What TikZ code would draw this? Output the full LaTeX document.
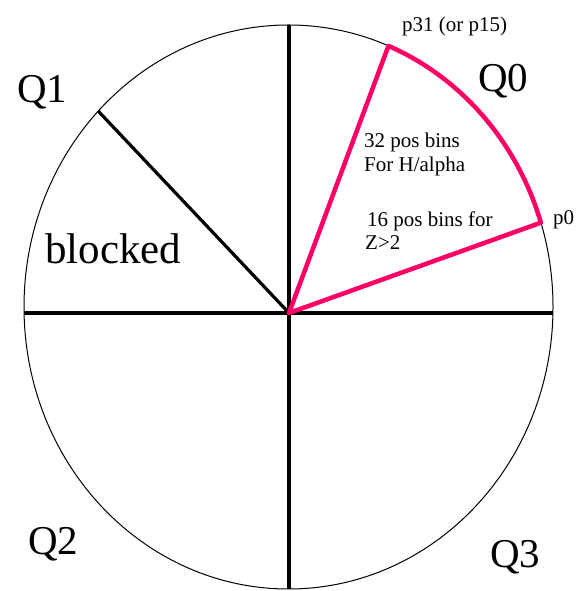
\documentclass[tikz,border=0pt]{standalone}
\usepackage{fontspec}
\setmainfont{Liberation Serif}
\usetikzlibrary{calc}
\definecolor{pinkline}{RGB}{255,0,102}
\begin{document}
\begin{tikzpicture}[x=1pt,y=1pt,
  thinline/.style={line width=1pt,black},
  axisline/.style={line width=3.2pt,black},
  binline/.style={line width=4.5pt,pinkline,line join=round,line cap=round},
  smalltxt/.style={anchor=base west,inner sep=0pt,font=\fontsize{21}{21}\selectfont},
  bigtxt/.style={anchor=base west,inner sep=0pt,font=\fontsize{41}{41}\selectfont}]
\useasboundingbox (0,0) rectangle (578,591);
\coordinate (C) at (288.5,284);
\coordinate (O) at (289,278);
\coordinate (top) at (289,566);
\coordinate (bot) at (289,2);
\coordinate (left) at (24,278);
\coordinate (right) at (553,278);
\coordinate (blk) at ($(C)+(136:264.5 and 282)$);
\coordinate (p31) at ($(C)+(67.8:264.5 and 282)$);
\coordinate (p0) at ($(C)+(17.4:264.5 and 282)$);
% circle
\draw[thinline] (C) ellipse [x radius=264.5, y radius=282];
% axes
\draw[axisline] (top) -- (bot);
\draw[axisline] (left) -- (right);
\draw[axisline] (O) -- (blk);
% pink sector
\draw[binline] (O) -- (p31) arc[start angle=67.8, end angle=17.4, x radius=264.5, y radius=282] -- (O);
% labels
\node[smalltxt] (lp31) at (402,559) {p31 (or p15)};
\node[smalltxt] (lp0) at (553,366) {p0};
\node[smalltxt] (l32a) at (364,443) {32 pos bins};
\node[smalltxt] (l32b) at (364,419) {For H/alpha};
\node[smalltxt] (l16a) at (367,364) {16 pos bins for};
\node[smalltxt] (l16b) at (365,341) {Z>2};
\node[bigtxt] (q0) at (478,499) {Q0};
\node[bigtxt] (q1) at (17,488) {Q1};
\node[bigtxt,font=\fontsize{43}{43}\selectfont] (blocked) at (45,327) {blocked};
\node[bigtxt] (q2) at (28,36) {Q2};
\node[bigtxt] (q3) at (490,23) {Q3};
\end{tikzpicture}
\end{document}
